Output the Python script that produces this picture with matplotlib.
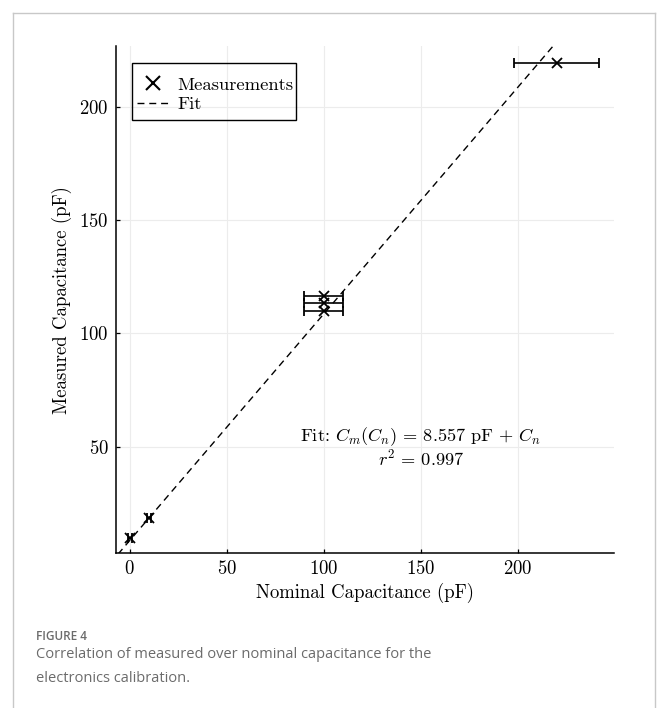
import matplotlib

matplotlib.use("Agg")
import matplotlib.pyplot as plt
from matplotlib.lines import Line2D
from matplotlib.patches import Rectangle

# 資料
nominal = [0, 10, 100, 100, 100, 220]
measured = [9.6, 18.7, 110.0, 113.2, 116.7, 219.4]
nominal_err = [1, 1, 10, 10, 10, 22]

fit_offset = 8.557
fit_r2 = 0.997
fit_x = [-10, 235]
fit_y = [x + fit_offset for x in fit_x]

x_ticks = [0, 50, 100, 150, 200]
y_ticks = [50, 100, 150, 200]

# 字體設定 (LaTeX 風格)
plt.rcParams["font.family"] = "serif"
plt.rcParams["font.serif"] = ["cmr10"]
plt.rcParams["mathtext.fontset"] = "cm"
plt.rcParams["axes.formatter.use_mathtext"] = True

W, H = 658, 708
fig = plt.figure(figsize=(W / 100, H / 100), dpi=100)
ax = fig.add_axes([0.1758, 0.2185, 0.7573, 0.7165])

# 擬合直線
ax.plot(fit_x, fit_y, color="black", linestyle=(0, (5, 3.5)), linewidth=1.0)

# 量測點與誤差棒
ax.errorbar(
    nominal,
    measured,
    xerr=nominal_err,
    fmt="x",
    color="black",
    markersize=7.5,
    markeredgewidth=1.3,
    elinewidth=1.2,
    capsize=3.8,
    capthick=1.2,
)

ax.set_xlim(-7.2, 249.6)
ax.set_ylim(2.95, 226.8)
ax.set_xticks(x_ticks)
ax.set_yticks(y_ticks)
ax.grid(True, color="#ececec", linewidth=0.8)
ax.set_axisbelow(True)

for side in ["top", "right"]:
    ax.spines[side].set_visible(False)
for side in ["left", "bottom"]:
    ax.spines[side].set_linewidth(1.1)

ax.tick_params(direction="in", length=3, width=0.9, labelsize=13.5, pad=5)
ax.set_xlabel("Nominal Capacitance (pF)", fontsize=13.5, labelpad=3)
ax.set_ylabel("Measured Capacitance (pF)", fontsize=13.5)
ax.yaxis.set_label_coords(-0.088, 0.5)

ax.text(
    150,
    50,
    r"Fit: $C_m(C_n)\,=\,8.557\ \mathrm{pF}\,+\,C_n$" + "\n" + rf"$r^2\,=\,{fit_r2}$",
    ha="center",
    va="center",
    fontsize=13.2,
    linespacing=1.0,
)

# 圖例 (外框另外畫)
handles = [
    Line2D([], [], marker="x", linestyle="none", color="black", markersize=10, markeredgewidth=1.5),
    Line2D([], [], linestyle=(0, (5, 3.5)), color="black", linewidth=1.0),
]
leg = ax.legend(
    handles,
    ["Measurements", "Fit"],
    loc="upper left",
    bbox_to_anchor=((136.7 - 115.7) / 498.3, (553.3 - 76.5) / 507.3),
    borderaxespad=0,
    borderpad=0,
    fontsize=13.4,
    frameon=False,
    handlelength=1.75,
    handletextpad=0.45,
    labelspacing=0.2,
)
fig.add_artist(
    Rectangle((131.7 / W, 1 - 120 / H), (296 - 131.7) / W, (120 - 63.3) / H,
              fill=False, edgecolor="black", linewidth=1.0, transform=fig.transFigure)
)

# 外框
frame_color = "#c8c8c8"
fig.add_artist(Line2D([13 / W, 655 / W], [1 - 13 / H, 1 - 13 / H], color=frame_color, linewidth=1))
fig.add_artist(Line2D([13 / W, 13 / W], [1 - 13 / H, 0], color=frame_color, linewidth=1))
fig.add_artist(Line2D([655 / W, 655 / W], [1 - 13 / H, 0], color=frame_color, linewidth=1))

# 圖說
cap_font = ["Open Sans", "DejaVu Sans"]
fig.text(36 / W, 1 - 636 / H, "FIGURE 4", family=cap_font, fontsize=8.5,
         color="#6b6b6b", va="center", weight="semibold")
fig.text(36 / W, 1 - 654 / H, "Correlation of measured over nominal capacitance for the",
         family=cap_font, fontsize=10.5, color="#6b6b6b", va="center")
fig.text(36 / W, 1 - 679 / H, "electronics calibration.",
         family=cap_font, fontsize=10.5, color="#6b6b6b", va="center")

fig.savefig("out.png", dpi=100)
plt.close(fig)
